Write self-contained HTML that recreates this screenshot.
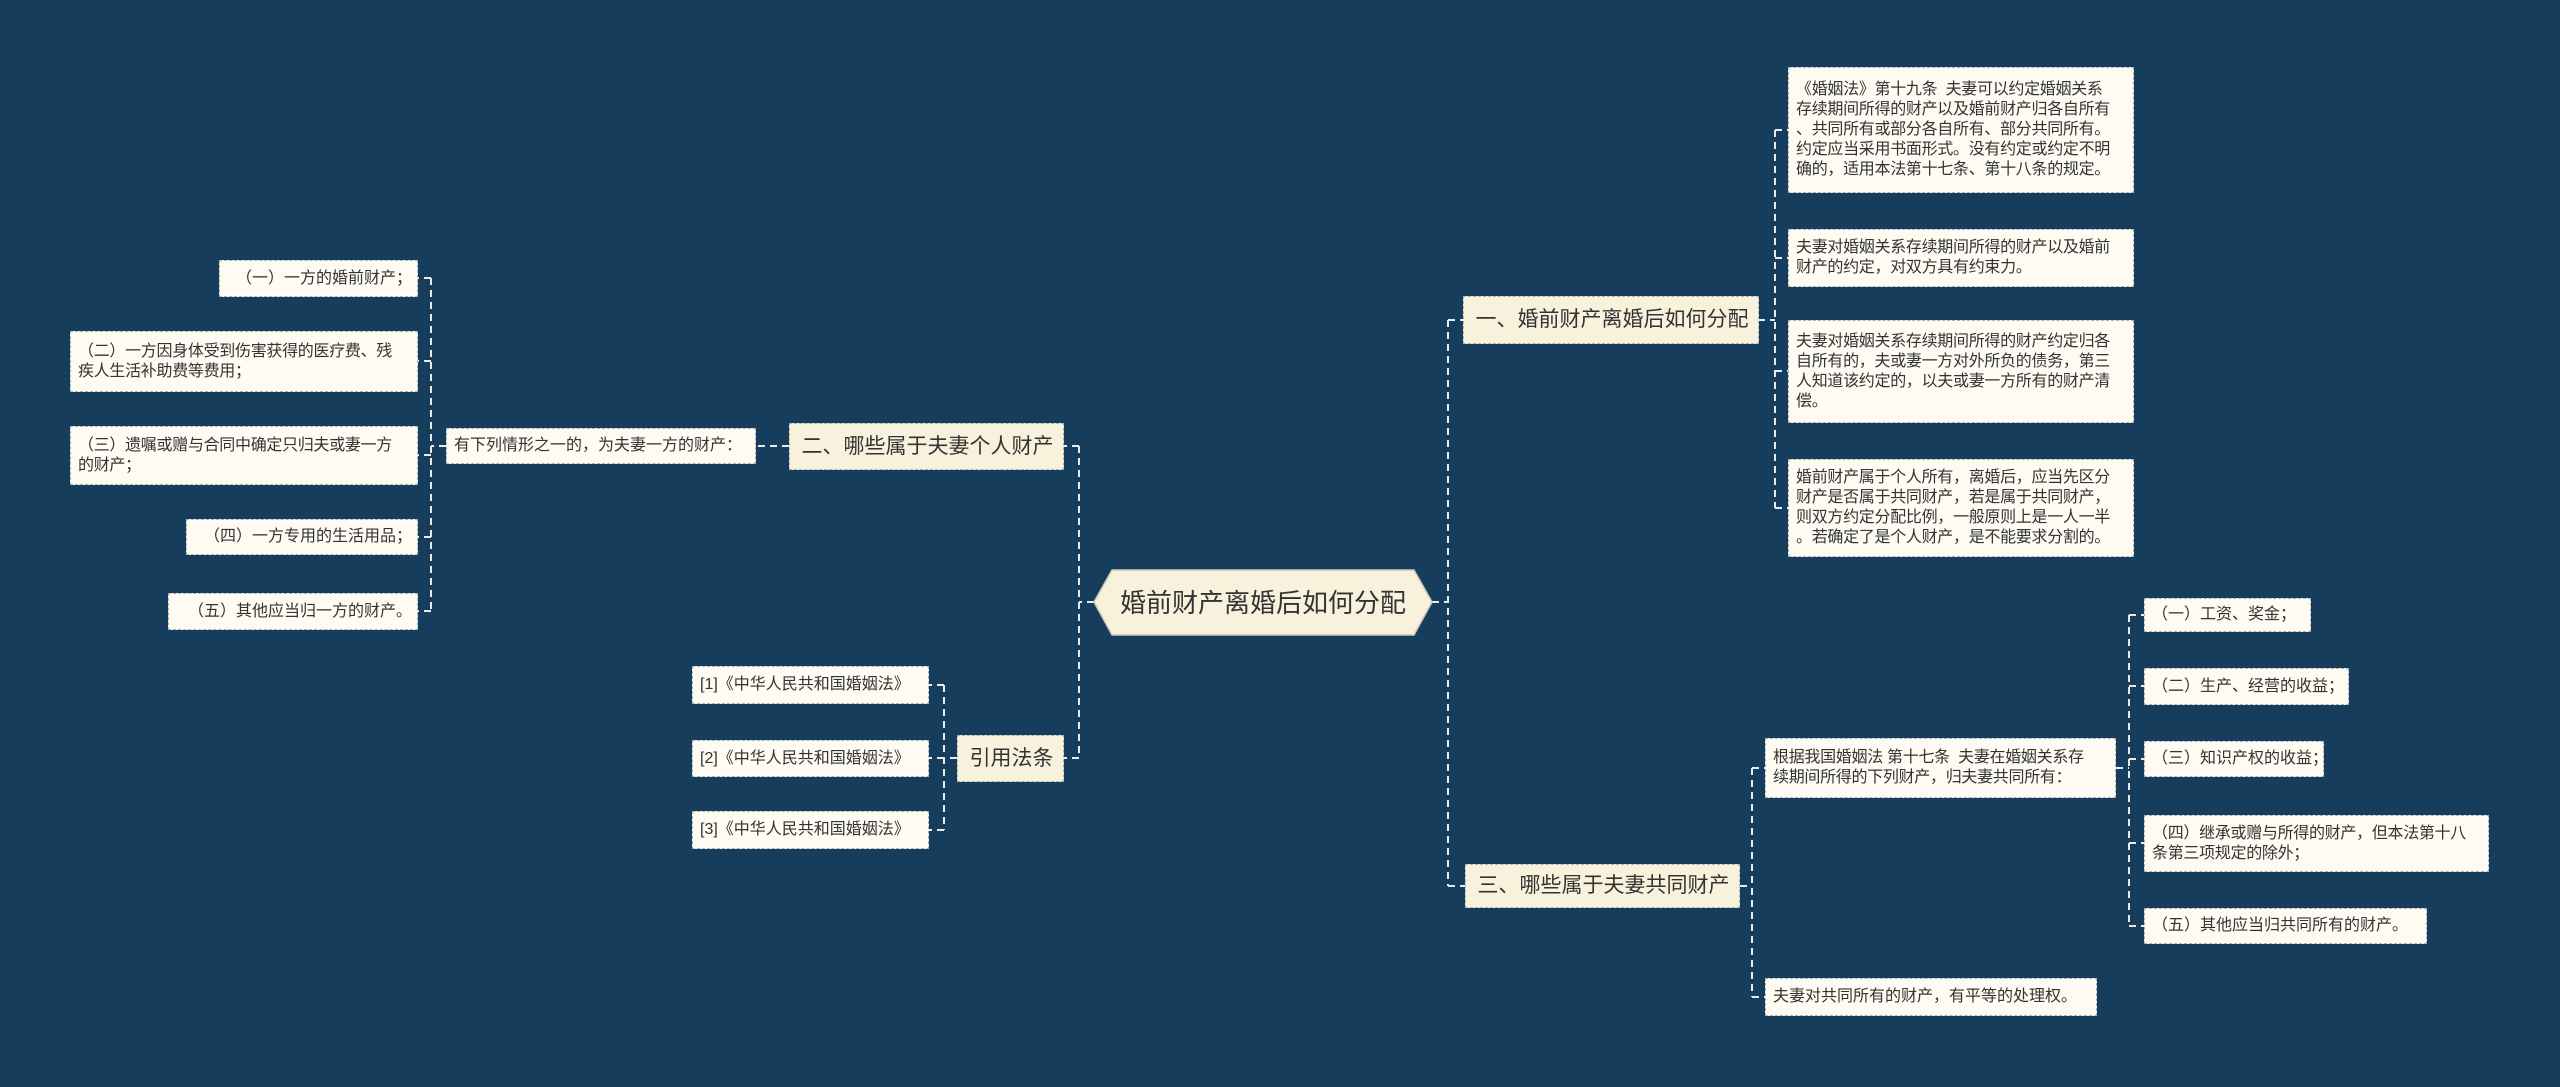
<!DOCTYPE html>
<html><head><meta charset="utf-8"><style>
html,body{margin:0;padding:0}
body{width:2560px;height:1087px;background:#173d5c;position:relative;overflow:hidden;font-family:"Liberation Sans","Noto Sans CJK SC",sans-serif;color:#333}
.n{position:absolute;box-sizing:border-box;background:#fdfbf2;border:1.5px dashed #a9b2b8;font-size:16px;line-height:20px;padding:0 5px 0 7px;display:flex;align-items:center;white-space:nowrap}
.m{letter-spacing:-0.3px}
.b{background:#f8f1dc;font-size:21px;justify-content:center}
svg{position:absolute;left:0;top:0}
</style></head><body>
<svg width="2560" height="1087">
<g stroke="#e8ecee" stroke-width="2" stroke-dasharray="7,5" fill="none">
<path d="M1432 602 H1448 M1448 320 V886 M1448 320 H1465 M1448 886 H1465"/>
<path d="M1094 602 H1079 M1079 446 V758 M1079 446 H1064 M1079 758 H1064"/>
<path d="M1758 320 H1775 M1775 130 V508 M1775 130 H1788 M1775 258 H1788 M1775 371 H1788 M1775 508 H1788"/>
<path d="M1740 886 H1752 M1752 768 V997 M1752 768 H1765 M1752 997 H1765"/>
<path d="M2116 768 H2129 M2129 615 V926 M2129 615 H2144 M2129 686 H2144 M2129 759 H2144 M2129 843 H2144 M2129 926 H2144"/>
<path d="M789 446 H756 M446 446 H431 M431 278 V611 M431 278 H418 M431 361 H418 M431 455 H418 M431 537 H418 M431 611 H418"/>
<path d="M957 758 H944 M944 685 V830 M944 685 H929 M944 758 H929 M944 830 H929"/>
</g>
<polygon points="1112,570 1414,570 1432,602 1414,635 1112,635 1094,602" fill="#f8f1dc" stroke="#cfc8b4" stroke-width="1.5"/>
<text x="1263" y="612" font-size="26" text-anchor="middle" fill="#333" font-family="Liberation Sans, Noto Sans CJK SC, sans-serif">婚前财产离婚后如何分配</text>
</svg>

<div class="n b" style="left:1463px;top:296px;width:296px;height:48px">一、婚前财产离婚后如何分配</div>
<div class="n b" style="left:1465px;top:864px;width:275px;height:44px">三、哪些属于夫妻共同财产</div>
<div class="n b" style="left:789px;top:423px;width:275px;height:47px">二、哪些属于夫妻个人财产</div>
<div class="n b" style="left:957px;top:735px;width:107px;height:47px">引用法条</div>

<div class="n m" style="left:1788px;top:67px;width:346px;height:126px"><div>《婚姻法》第十九条&nbsp; 夫妻可以约定婚姻关系<br>存续期间所得的财产以及婚前财产归各自所有<br>、共同所有或部分各自所有、部分共同所有。<br>约定应当采用书面形式。没有约定或约定不明<br>确的，适用本法第十七条、第十八条的规定。</div></div>
<div class="n m" style="left:1788px;top:229px;width:346px;height:58px"><div>夫妻对婚姻关系存续期间所得的财产以及婚前<br>财产的约定，对双方具有约束力。</div></div>
<div class="n m" style="left:1788px;top:320px;width:346px;height:103px"><div>夫妻对婚姻关系存续期间所得的财产约定归各<br>自所有的，夫或妻一方对外所负的债务，第三<br>人知道该约定的，以夫或妻一方所有的财产清<br>偿。</div></div>
<div class="n m" style="left:1788px;top:459px;width:346px;height:98px"><div>婚前财产属于个人所有，离婚后，应当先区分<br>财产是否属于共同财产，若是属于共同财产，<br>则双方约定分配比例，一般原则上是一人一半<br>。若确定了是个人财产，是不能要求分割的。</div></div>

<div class="n m" style="left:1765px;top:738px;width:351px;height:60px"><div>根据我国婚姻法 第十七条&nbsp; 夫妻在婚姻关系存<br>续期间所得的下列财产，归夫妻共同所有：</div></div>
<div class="n" style="left:1765px;top:978px;width:332px;height:38px">夫妻对共同所有的财产，有平等的处理权。</div>

<div class="n" style="left:2144px;top:598px;width:167px;height:34px">（一）工资、奖金；</div>
<div class="n" style="left:2144px;top:668px;width:205px;height:37px">（二）生产、经营的收益；</div>
<div class="n" style="left:2144px;top:741px;width:180px;height:36px">（三）知识产权的收益；</div>
<div class="n m" style="left:2144px;top:815px;width:345px;height:57px"><div>（四）继承或赠与所得的财产，但本法第十八<br>条第三项规定的除外；</div></div>
<div class="n" style="left:2144px;top:908px;width:283px;height:36px">（五）其他应当归共同所有的财产。</div>

<div class="n" style="left:446px;top:428px;width:310px;height:36px">有下列情形之一的，为夫妻一方的财产：</div>
<div class="n" style="left:219px;top:260px;width:199px;height:37px;justify-content:flex-end">（一）一方的婚前财产；</div>
<div class="n m" style="left:70px;top:331px;width:348px;height:61px"><div>（二）一方因身体受到伤害获得的医疗费、残<br>疾人生活补助费等费用；</div></div>
<div class="n m" style="left:70px;top:426px;width:348px;height:59px"><div>（三）遗嘱或赠与合同中确定只归夫或妻一方<br>的财产；</div></div>
<div class="n" style="left:186px;top:519px;width:232px;height:36px;justify-content:flex-end">（四）一方专用的生活用品；</div>
<div class="n" style="left:168px;top:593px;width:250px;height:37px;justify-content:flex-end">（五）其他应当归一方的财产。</div>

<div class="n" style="left:692px;top:666px;width:237px;height:38px">[1]《中华人民共和国婚姻法》</div>
<div class="n" style="left:692px;top:740px;width:237px;height:37px">[2]《中华人民共和国婚姻法》</div>
<div class="n" style="left:692px;top:811px;width:237px;height:38px">[3]《中华人民共和国婚姻法》</div>
</body></html>
